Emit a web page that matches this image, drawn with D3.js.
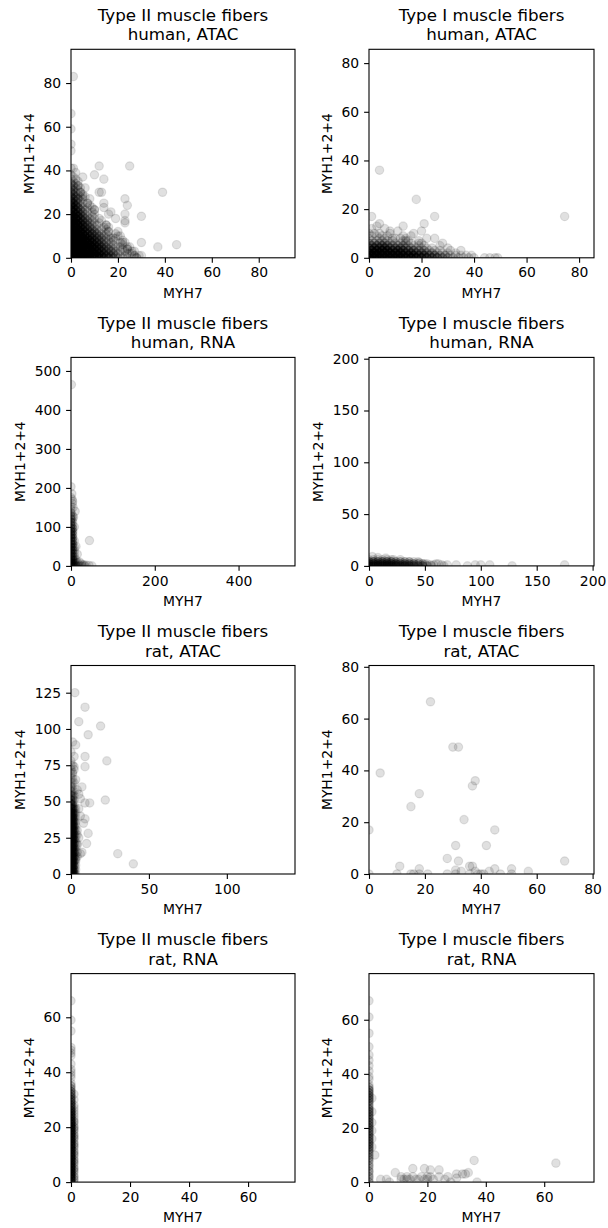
<!DOCTYPE html>
<html>
<head>
<meta charset="utf-8">
<script src="https://cdn.jsdelivr.net/npm/d3@7"></script>
<style>
  body { margin: 0; background: #ffffff; }
  svg { display: block; font-family: "DejaVu Sans", sans-serif; }
</style>
</head>
<body>
<svg id="chart" width="608" height="1228"></svg>
<script>
// ---------------------------------------------------------------
// Data: MYH7 (x) against MYH1+2+4 (y) per nucleus / cell.
// "Points" are single observations; "grid" rows hold how many
// observations share each coordinate:
//   [y, first x, n at first x, n at first x + step, ...]
// ---------------------------------------------------------------
const xAxisLabel = "MYH7";
const yAxisLabel = "MYH1+2+4";

const panelTitles = [
  ["Type II muscle fibers", "human, ATAC"],
  ["Type I muscle fibers", "human, ATAC"],
  ["Type II muscle fibers", "human, RNA"],
  ["Type I muscle fibers", "human, RNA"],
  ["Type II muscle fibers", "rat, ATAC"],
  ["Type I muscle fibers", "rat, ATAC"],
  ["Type II muscle fibers", "rat, RNA"],
  ["Type I muscle fibers", "rat, RNA"]
];

// Type II, human, ATAC
const t2HumanAtacPoints = [[1,83],[0,66],[0,59],[0,52],[0,49],[0,41],[1,41],[2,39],[5,37],[10,38],[12,42],[25,42],
  [14,36],[12,30],[13,30],[39,30],[23,27],[24,24],[14,25],[14,23],[9,23],[17,21],[16,20],[23,20],[30,19],[23,17],
  [19,18],[23,16],[21,10],[18,9],[17,9],[30,7],[37,5],[45,6],[24,5],[24,4],[30,1],[27,1],[25,2],[20,12],[16,12],
  [10,22],[7,25],[4,30],[5,28],[3,33],[8,27],[6,32],[15,15],[12,18],[20,5],[22,7],[26,3],[28,0],[29,1]];
const t2HumanAtacStep = 2;
const t2HumanAtacGrid = [
  [0,0,7,7,7,6,6,5,4,3,3,2,1,1,1,0,1],
  [1,1,7,7,6,6,5,4,4,3,2,2,1,1,0,1],
  [2,0,7,7,6,6,5,5,4,3,2,2,1,0,1,1],
  [3,1,7,6,6,5,5,4,3,2,2,1,1,1,0,1],
  [4,0,7,7,6,5,5,4,3,2,2,1,0,1,1],
  [5,1,7,6,6,5,4,3,3,2,1,1,1,0,1],
  [6,0,7,6,6,5,4,4,3,2,1,1,0,1],
  [7,1,6,6,5,5,4,3,2,1,1,0,1,1],
  [8,0,7,6,5,5,4,3,2,1,1,1,0,1],
  [9,1,6,6,5,4,3,2,2,1,0,1],
  [10,0,6,6,5,4,3,2,2,1,1,0,1],
  [11,1,6,5,4,3,3,2,1,1,0,1],
  [12,0,6,5,4,3,2,2,1,0,1],
  [13,1,5,5,4,3,2,1,1,1],
  [14,0,6,5,4,3,2,1,0,1,1],
  [15,1,5,4,3,2,1,1,0,1],
  [16,0,5,5,3,2,1,1,1],
  [17,1,5,4,3,2,1,0,1],
  [18,0,5,4,3,2,1,1],
  [19,1,5,4,2,1,1],
  [20,0,5,4,2,1,0,1],
  [21,1,4,3,2,1,1],
  [22,0,5,3,2,1,0,1],
  [23,1,4,3,1,1],
  [24,0,4,3,1,0,1],
  [25,1,4,2,1,1],
  [26,0,4,2,1],
  [27,1,3,2,1],
  [28,0,3,2,1,1],
  [29,1,3,1,1],
  [30,0,3,1,1],
  [31,1,2,1],
  [32,0,2,1,1],
  [33,1,2,1],
  [34,0,2,1],
  [35,1,1,1],
  [36,0,1,1],
  [37,1,1],
  [38,0,1]
];

// Type I, human, ATAC
const t1HumanAtacPoints = [[4,36],[18,24],[25,17],[1,17],[74.5,17],[13,13],[21,14],[4,14],[3,13],[11,11],[17,10],
  [20,11],[25,8],[12,8],[9,8],[5,9],[35,3],[39,1],[44,0],[46,0],[48,0],[49,0],[27,5],[31,3],[1,12],[2,10],[16,9],
  [22,8],[8,11],[30,4],[33,2],[28,6],[37,1],[40,0],[14,7],[19,6],[6,12]];
const t1HumanAtacStep = 2;
const t1HumanAtacGrid = [
  [0,0,6,6,6,6,6,6,6,5,5,5,4,4,3,3,2,2,1,1,1,1],
  [1,1,6,6,6,6,6,6,5,5,5,4,4,3,3,2,2,1,1,1],
  [2,0,6,6,6,5,5,5,5,4,4,3,3,2,2,1,1,1],
  [3,1,5,5,5,5,4,4,4,3,3,2,2,1,1,1],
  [4,0,4,4,4,4,3,3,3,2,2,1,1,1,1],
  [5,1,3,3,3,3,2,2,2,1,1,1,1],
  [6,0,2,2,2,2,1,1,1,1,1,0,1],
  [7,1,1,1,1,1,1,0,1,1,0,1],
  [8,0,1,0,1,1,0,1,0,1],
  [9,1,1,1,0,1,0,0,1],
  [10,0,1,0,1,0,1]
];

// Type II, human, RNA
const t2HumanRnaPoints = [[1,465],[0,203],[3,170],[4,165],[5,150],[2,185],[0,175],[44,65],[36,2],[43,1],[50,0],
  [30,3],[25,5],[20,10],[15,30],[12,50],[8,100],[28,0],[33,0],[10,140],[6,125],[3,160]];
const t2HumanRnaStep = 4;
const t2HumanRnaGrid = [
  [0,0,4,3,2,2,1,1,1],[8,0,4,3,2,1,1],[16,0,4,3,1,1],[24,0,4,2,1],[32,0,4,2,1],[40,0,4,2,1],[48,0,4,2,1],
  [56,0,4,2],[64,0,4,2,1],[72,0,4,2],[80,0,4,2],[88,0,4,2],[96,0,3,2],[104,0,3,1],[112,0,3,1],[120,0,3,1],
  [128,0,2,1],[136,0,2],[144,0,1],[152,0,1]
];

// Type I, human, RNA
const t1HumanRnaPoints = [[3,9],[15,7.5],[8,8],[22,6],[55,1],[58,1],[62,2],[65,1],[70,1],[78,1],[88,0],[95,1],
  [100,1],[108,1],[128,0],[175,1],[60,2],[67,0],[45,3],[50,2]];
const t1HumanRnaStep = 4;
const t1HumanRnaGrid = [
  [0,0,4,4,4,4,4,4,4,4,4,4,3,3,3,2,1],
  [2,0,4,4,4,4,4,4,4,3,3,3,3,2,2,1],
  [4,0,3,3,3,3,3,3,2,2,2,2,1,1],
  [6,0,1,1,1,1,1,1,0,1]
];

// Type II, rat, ATAC
const t2RatAtacPoints = [[2.5,125],[9,115],[5,105],[19,102],[11,96],[1,91],[3,89],[2,81],[9,81],[23,78],[9,74],
  [2,74],[1,70],[7,60],[22,51],[12,49],[9,49],[9,38],[11,28],[10,21],[6,14],[30,14],[40,7],[2,1],[5,45],[4,30],
  [5,55],[6,40],[4,20],[8,35],[3,65],[4,58],[6,52],[5,25],[7,15],[3,10]];
const t2RatAtacStep = 1;
const t2RatAtacGrid = [
  [0,0,8,6,3,1],[3,0,8,6,3,1],[6,0,8,6,3,1],[9,0,8,6,3,1],[12,0,8,6,3,1,1],[15,0,8,6,3,1,1],[18,0,8,6,3,1],
  [21,0,8,6,3,1,1],[24,0,8,6,3,1],[27,0,8,6,3,1,1],[30,0,8,6,3,1],[33,0,8,6,3,1],[36,0,8,6,3,1],[39,0,8,6,2,1],
  [42,0,7,5,2,1],[45,0,6,4,2,1],[48,0,5,3,1],[51,0,4,2,1],[54,0,3,2,1],[57,0,2,1,1],[60,0,2,1],[63,0,1,1,1],
  [66,0,1,1],[69,0,1,1],[72,0,1,0,1],[75,0,1,1],[78,0,1],[84,0,1]
];

// Type I, rat, ATAC
const t1RatAtacPoints = [[22,66.5],[30,49],[32,49],[4,39],[38,36],[37,34],[18,31],[15,26],[34,21],[0,17],[45,17],
  [31,11],[42,11],[28,6],[32,5],[70,5],[11,3],[18,2],[36,3],[37,3],[45,2],[51,2],[57,1],[0,0],[10,0],[15,0],[16,0],
  [21,0],[28,0],[31,0],[31,1.5],[36,0],[38,1],[40,0],[41,0],[43,1],[47,0],[51,0],[18,0],[33,1],[39,0]];
const t1RatAtacStep = 1;
const t1RatAtacGrid = [];

// Type II, rat, RNA
const t2RatRnaPoints = [[0,38],[0,39],[0,40],[0,41],[0,43],[0,46],[0,47],[0,48],[0,49],[0,55],[0,59],[0,66]];
const t2RatRnaStep = 1;
const t2RatRnaGrid = [
  [0,0,4,1],[1,0,6,2],[2,0,6,2],[3,0,6,1],[4,0,6,2],[5,0,6,2],[6,0,6,1],[7,0,6,2],[8,0,6,2],[9,0,6,1],[10,0,6,2],
  [11,0,6,2],[12,0,6,1],[13,0,6,2],[14,0,6,2],[15,0,6,1],[16,0,6,2],[17,0,6,2],[18,0,6,1],[19,0,6,2],[20,0,6,2],
  [21,0,6,1],[22,0,6,2],[23,0,5,1],[24,0,5,1],[25,0,5,1],[26,0,5,1],[27,0,4,1],[28,0,4,1],[29,0,4,0],[30,0,4,1],
  [31,0,3,0],[32,0,3,1],[33,0,3,0],[34,0,2,0],[35,0,2,0],[36,0,1,0]
];

// Type I, rat, RNA
const t1RatRnaPoints = [[0,67],[0,61],[0,55],[0,50],[0,47],[0,45],[0,43],[0,41],[0,39],[0,38],[2,10],[4,1],[9,3.5],
  [11,2],[13,2],[14,1],[15,5],[15,2],[19,5],[20,2],[20,1],[21,4.5],[24,4.5],[24,2],[26,1],[30,3],[30,1.5],[33,3],
  [32,3],[34,3.5],[36,8],[37,0],[64,7],[7,0],[16,1],[17,1],[22,1],[28,0],[12,1],[13,1],[11,1],[19,1],[21,2],[18,2],
  [27,2],[6,1]];
const t1RatRnaStep = 1;
const t1RatRnaGrid = [
  [0,0,2],[1,0,1],[2,0,2],[3,0,1],[4,0,2],[5,0,1],[6,0,2],[7,0,1],[8,0,2],[9,0,2],[10,0,2],[11,0,2],[12,0,3],
  [13,0,3,1],[14,0,3],[15,0,3],[16,0,3,1],[17,0,3],[18,0,3],[19,0,3,1],[20,0,3],[21,0,3],[22,0,3,1],[23,0,3],
  [24,0,3],[25,0,3],[26,0,3,1],[27,0,3],[28,0,2],[29,0,2],[30,0,3],[31,0,3,1],[32,0,3],[33,0,3],[34,0,3],
  [35,0,2],[36,0,1]
];

// Tick values for each panel
const xTickSets = [[0,20,40,60,80],[0,20,40,60,80],[0,200,400],[0,50,100,150,200],
                   [0,50,100],[0,20,40,60,80],[0,20,40,60],[0,20,40,60]];
const yTickSets = [[0,20,40,60,80],[0,20,40,60,80],[0,100,200,300,400,500],[0,50,100,150,200],
                   [0,25,50,75,100,125],[0,20,40,60,80],[0,20,40,60],[0,20,40,60]];

// ---------------------------------------------------------------
const pointSets = [t2HumanAtacPoints, t1HumanAtacPoints, t2HumanRnaPoints, t1HumanRnaPoints,
                   t2RatAtacPoints, t1RatAtacPoints, t2RatRnaPoints, t1RatRnaPoints];
const gridSets = [t2HumanAtacGrid, t1HumanAtacGrid, t2HumanRnaGrid, t1HumanRnaGrid,
                  t2RatAtacGrid, t1RatAtacGrid, t2RatRnaGrid, t1RatRnaGrid];
const gridSteps = [t2HumanAtacStep, t1HumanAtacStep, t2HumanRnaStep, t1HumanRnaStep,
                   t2RatAtacStep, t1RatAtacStep, t2RatRnaStep, t1RatRnaStep];

// one mark per observation: repeated coordinates stack up
function expandGrid(grid, step) {
  const out = [];
  grid.forEach(row => {
    const y = row[0], x0 = row[1];
    row.slice(2).forEach((n, i) => {
      for (let k = 0; k < n; k++) out.push([x0 + i * step, y]);
    });
  });
  return out;
}

// layout (px)
const colLeft = [71, 369];
const colWidth = [224, 225];
const rowTop = [49.3, 357.4, 665.5, 973.6];
const plotH = 208.5;
const tickLen = 4.9, tickPad = 4.9, labelPad = 5.6;
const tickFont = 13.9, titleFont = 16.7;
const markerR = 4.2;

const svg = d3.select("#chart");
const defs = svg.append("defs");

panelTitles.forEach((title, idx) => {
  const col = idx % 2, row = Math.floor(idx / 2);
  const left = colLeft[col], top = rowTop[row];
  const w = colWidth[col], h = plotH;

  const data = pointSets[idx].concat(expandGrid(gridSets[idx], gridSteps[idx]));
  const lim = 1.15 * d3.max(data, d => Math.max(d[0], d[1]));

  const x = d3.scaleLinear().domain([0, lim]).range([0, w]);
  const y = d3.scaleLinear().domain([0, lim]).range([h, 0]);

  const g = svg.append("g").attr("transform", `translate(${left},${top})`);

  defs.append("clipPath").attr("id", "clip" + idx)
    .append("rect").attr("x", 0).attr("y", 0).attr("width", w).attr("height", h);

  g.append("g").attr("clip-path", `url(#clip${idx})`)
    .selectAll("circle").data(data).join("circle")
    .attr("cx", d => x(d[0]))
    .attr("cy", d => y(d[1]))
    .attr("r", markerR)
    .attr("fill", "#000").attr("fill-opacity", 0.12)
    .attr("stroke", "#000").attr("stroke-opacity", 0.1).attr("stroke-width", 1.2);

  // axes
  const xAxis = g.append("g").attr("transform", `translate(0,${h})`)
    .call(d3.axisBottom(x).tickValues(xTickSets[idx]).tickFormat(d3.format("d"))
      .tickSize(tickLen).tickPadding(tickPad).tickSizeOuter(0));
  const yAxis = g.append("g")
    .call(d3.axisLeft(y).tickValues(yTickSets[idx]).tickFormat(d3.format("d"))
      .tickSize(tickLen).tickPadding(tickPad).tickSizeOuter(0));
  [xAxis, yAxis].forEach(a => {
    a.select(".domain").remove();
    a.selectAll(".tick line").attr("stroke", "#000").attr("stroke-width", 1.1);
    a.selectAll(".tick text").attr("fill", "#000")
      .style("font-family", '"DejaVu Sans", sans-serif').style("font-size", tickFont + "px");
  });

  // frame
  g.append("rect").attr("x", 0).attr("y", 0).attr("width", w).attr("height", h)
    .attr("fill", "none").attr("stroke", "#000").attr("stroke-width", 1.1);

  // axis labels
  g.append("text").attr("x", w / 2).attr("y", h + 40)
    .attr("text-anchor", "middle").style("font-size", tickFont + "px").attr("fill", "#000")
    .text(xAxisLabel);

  let maxW = 0;
  yAxis.selectAll(".tick text").each(function () {
    maxW = Math.max(maxW, this.getComputedTextLength());
  });
  const yl = -(tickLen + tickPad + maxW + labelPad + 3.6);
  g.append("text")
    .attr("transform", `translate(${yl},${h / 2}) rotate(-90)`)
    .attr("text-anchor", "middle").style("font-size", tickFont + "px").attr("fill", "#000")
    .text(yAxisLabel);

  // two-line title
  const t = g.append("text").attr("text-anchor", "middle")
    .style("font-size", titleFont + "px").attr("fill", "#000");
  t.append("tspan").attr("x", w / 2).attr("y", -28.6).text(title[0]);
  t.append("tspan").attr("x", w / 2).attr("y", -9).text(title[1]);
});
</script>
</body>
</html>
